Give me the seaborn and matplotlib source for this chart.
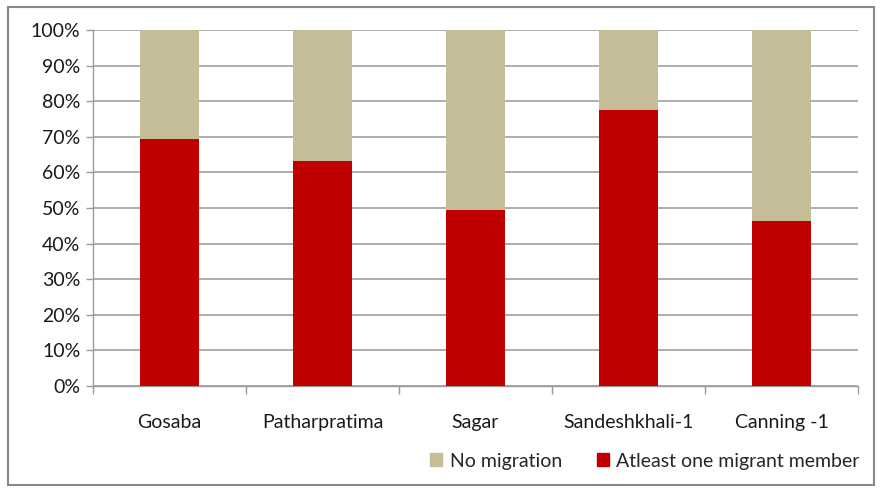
import numpy as np
import pandas as pd
import matplotlib.pyplot as plt
import seaborn as sns
from matplotlib.patches import Patch, Rectangle

blocks = ["Gosaba", "Patharpratima", "Sagar", "Sandeshkhali-1", "Canning -1"]
migrant = [69.5, 63.2, 49.3, 77.5, 46.3]
no_migration = [100 - m for m in migrant]

red = "#C00000"
tan = "#C4BD97"

sns.set_theme(style="white")
plt.rcParams["font.family"] = ["Lato", "DejaVu Sans"]

df = pd.DataFrame({"block": blocks, "migrant": migrant, "none": no_migration})
df["total"] = df["migrant"] + df["none"]

fig = plt.figure(figsize=(8.8, 4.88), dpi=100)
ax = fig.add_axes([93 / 880, 1 - 386 / 488, 765 / 880, 356 / 488])

# stacked: draw the top segment as the full height, then the bottom over it
sns.barplot(data=df, x="block", y="total", color=tan, width=0.39, ax=ax,
            saturation=1, zorder=2, edgecolor="none")
sns.barplot(data=df, x="block", y="migrant", color=red, width=0.39, ax=ax,
            saturation=1, zorder=3, edgecolor="none")

fs = 14
ax.set_xlim(-0.5, len(blocks) - 0.5)
ax.set_ylim(0, 100)
ax.set_yticks(np.arange(0, 101, 10))
ax.set_yticklabels([f"{v}%" for v in range(0, 101, 10)], fontsize=fs, color="#1a1a1a")
ax.set_xticks(range(len(blocks)))
ax.set_xticklabels(blocks, fontsize=fs, color="#1a1a1a")
ax.tick_params(axis="x", length=0, pad=20)
ax.tick_params(axis="y", length=5, color="#999999", width=1, pad=4, left=True)
ax.set_xticks(np.arange(-0.5, len(blocks), 1), minor=True)
ax.tick_params(axis="x", which="minor", length=6, color="#999999", bottom=True)
ax.set_xlabel("")
ax.set_ylabel("")

ax.grid(axis="y", color="#A0A0A0", linewidth=1.2, zorder=0)
ax.set_axisbelow(True)
for side in ["top", "right"]:
    ax.spines[side].set_visible(False)
for side in ["left", "bottom"]:
    ax.spines[side].set_color("#999999")
    ax.spines[side].set_linewidth(1)

handles = [Patch(color=tan, label="No migration"),
           Patch(color=red, label="Atleast one migrant member")]
fig.legend(handles=handles, loc="center", bbox_to_anchor=(645 / 880, 1 - 461 / 488),
           ncol=2, frameon=False, fontsize=fs, handlelength=0.6, handleheight=0.6,
           handletextpad=0.4, columnspacing=1.8, borderpad=0)

# outer chart border
fig.patches.append(Rectangle((8 / 880, 3 / 488), 866 / 880, 478 / 488,
                             transform=fig.transFigure, fill=False,
                             edgecolor="#888888", linewidth=1.5))

fig.savefig("out.png", dpi=100)
